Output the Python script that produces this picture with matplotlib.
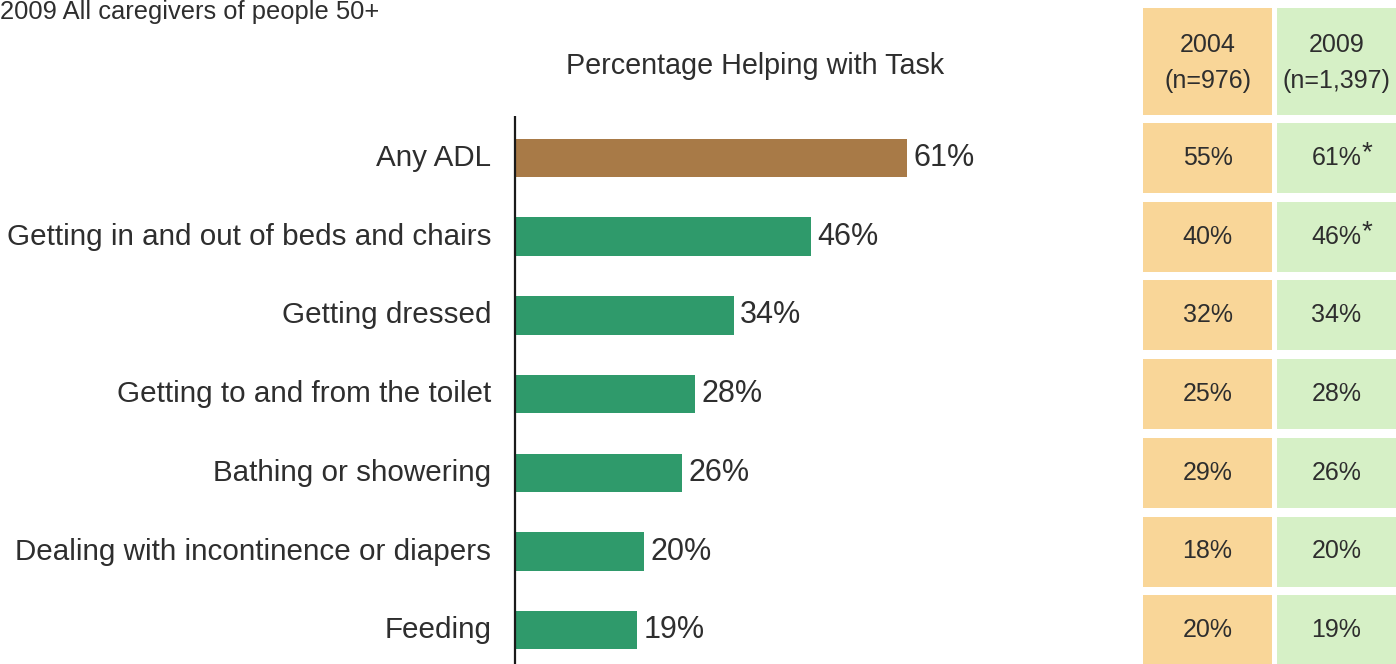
import matplotlib
matplotlib.use("Agg")
import matplotlib.pyplot as plt
from matplotlib.patches import Rectangle

# Data
tasks = [
    "Any ADL",
    "Getting in and out of beds and chairs",
    "Getting dressed",
    "Getting to and from the toilet",
    "Bathing or showering",
    "Dealing with incontinence or diapers",
    "Feeding",
]
pct_2009 = [61, 46, 34, 28, 26, 20, 19]
pct_2004 = [55, 40, 32, 25, 29, 18, 20]
significant = [True, True, False, False, False, False, False]
col_years = ["2004", "2009"]
col_sizes = ["(n=976)", "(n=1,397)"]
subtitle = "2009 All caregivers of people 50+"
axis_title = "Percentage Helping with Task"

plt.rcParams["font.family"] = ["Liberation Sans", "DejaVu Sans"]

W, H = 1396, 664
fig = plt.figure(figsize=(W / 100, H / 100), dpi=100)
fig.patch.set_facecolor("white")

TEXT = "#2e2e2e"
BROWN = "#a87a47"
GREEN = "#2f9a6b"
ORANGE_CELL = "#f9d698"
GREEN_CELL = "#d6f0c6"

# bar axes: x runs from the value axis to the right edge of the figure
x0_px = 515
px_per_pct = 6.43
pitch = 78.7
first_center = 158
y_top = -first_center / pitch
y_bot = (H - first_center) / pitch


def row(px):
    """Vertical pixel position expressed in bar-row units."""
    return (px - first_center) / pitch


ax = fig.add_axes([x0_px / W, 0, (W - x0_px) / W, 1])
ax.set_xlim(0, (W - x0_px) / px_per_pct)
ax.set_ylim(y_bot, y_top)
ax.axis("off")

ypos = list(range(len(tasks)))
colors = [BROWN] + [GREEN] * (len(tasks) - 1)
ax.barh(ypos, pct_2009, height=0.49, color=colors, edgecolor="none")

# vertical value axis
ax.plot([0, 0], [row(116), y_bot], color="#1a1a1a", lw=1.6,
        clip_on=False, solid_capstyle="butt")

for y, v, lab in zip(ypos, pct_2009, tasks):
    ax.text(v + 1.0, y, f"{v}%", va="center", ha="left", fontsize=22, color=TEXT)
    ax.text(-3.7, y, lab, va="center", ha="right", fontsize=21.3, color=TEXT)

ax.text(37.3, row(66), axis_title, ha="center", va="center",
        fontsize=20.7, color=TEXT)

fig.text(0.0, 1.0 - 19 / H, subtitle, ha="left", va="baseline", fontsize=18.4,
         color=TEXT)

# comparison table on the right
tx = fig.add_axes([0, 0, 1, 1])
tx.set_xlim(0, W)
tx.set_ylim(y_bot, y_top)
tx.axis("off")
tx.set_zorder(-1)

cols = [(1143, 1272, ORANGE_CELL, pct_2004), (1277, 1400, GREEN_CELL, pct_2009)]
row_h = 70 / pitch
for ci, (xa, xb, fc, vals) in enumerate(cols):
    # header cell
    hy0, hy1 = row(8), row(115)
    tx.add_patch(Rectangle((xa, hy0), xb - xa, hy1 - hy0, facecolor=fc, edgecolor="none"))
    xc = (xa + min(xb, W)) / 2
    tx.text(xc, row(45), col_years[ci], ha="center", va="center", fontsize=18, color=TEXT)
    tx.text(xc, row(81), col_sizes[ci], ha="center", va="center", fontsize=18, color=TEXT)
    for y, v in zip(ypos, vals):
        tx.add_patch(Rectangle((xa, y - row_h / 2), xb - xa, row_h, facecolor=fc,
                               edgecolor="none"))
        tx.text(xc, y, f"{v}%", ha="center", va="center", fontsize=18, color=TEXT)
        if ci == 1 and significant[y]:
            tx.text(xc + 25, y - 0.06, "*", ha="left", va="center", fontsize=20,
                    color=TEXT)

fig.savefig("out.png", dpi=100, facecolor="white")
